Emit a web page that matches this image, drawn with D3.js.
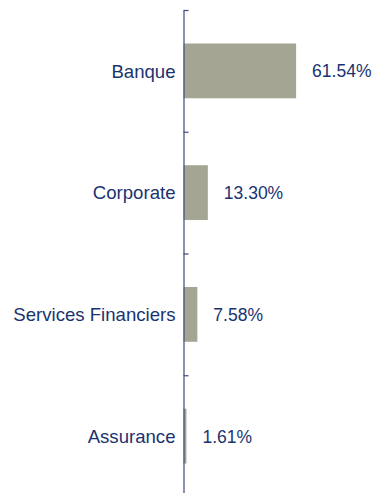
<!DOCTYPE html>
<html>
<head>
<meta charset="utf-8">
<script src="https://cdn.jsdelivr.net/npm/d3@7"></script>
<style>
  html, body { margin: 0; padding: 0; background: #fff; }
  svg { display: block; }
</style>
</head>
<body>
<svg id="chart" width="374" height="493"></svg>
<script>
// Répartition par métier
const categories = ["Banque", "Corporate", "Services Financiers", "Assurance"];
const values = [61.54, 13.30, 7.58, 1.61];
const valueLabels = ["61.54%", "13.30%", "7.58%", "1.61%"];

const textColor = "#1a3370";
const axisColor = "#3b4c7e";
const barColor = "#a5a593";
const font = "'Liberation Sans', Arial, sans-serif";

const svg = d3.select("#chart");
const x0 = 183.5, plotTop = 10, plotBottom = 497;

const x = d3.scaleLinear().domain([0, 100]).range([x0, x0 + 183]);
const y = d3.scaleBand().domain(categories).range([plotTop, plotBottom]).padding(0);
const barH = y.bandwidth() * 0.45;

// Bars
svg.append("g").selectAll("rect")
  .data(categories)
  .join("rect")
  .attr("x", x(0))
  .attr("y", d => y(d) + (y.bandwidth() - barH) / 2)
  .attr("width", (d, i) => x(values[i]) - x(0))
  .attr("height", barH)
  .attr("fill", barColor);

// Value labels
svg.append("g").selectAll("text")
  .data(categories)
  .join("text")
  .attr("x", (d, i) => x(values[i]) + 16)
  .attr("y", d => y(d) + y.bandwidth() / 2)
  .attr("dy", "0.37em")
  .attr("fill", textColor)
  .style("font-family", font)
  .style("font-size", "17.5px")
  .text((d, i) => valueLabels[i]);

// Category labels
const labelAxis = svg.append("g")
  .attr("transform", `translate(${x0},0)`)
  .call(d3.axisLeft(y).tickSize(0).tickPadding(8));
labelAxis.select(".domain").remove();
labelAxis.selectAll("text")
  .attr("fill", textColor)
  .attr("dy", "0.36em")
  .style("font-family", font)
  .style("font-size", "18.6px");

// Axis line with ticks at category boundaries
const edges = d3.scaleLinear().domain([0, categories.length]).range([plotTop, plotBottom]);
const edgeAxis = svg.append("g")
  .attr("transform", `translate(${x0},0)`)
  .call(d3.axisRight(edges).ticks(categories.length).tickSize(5).tickSizeOuter(0).tickFormat(""));
edgeAxis.select(".domain").attr("stroke", axisColor).attr("stroke-width", 1.2);
edgeAxis.selectAll(".tick line").attr("stroke", axisColor).attr("stroke-width", 1.2);
</script>
</body>
</html>
